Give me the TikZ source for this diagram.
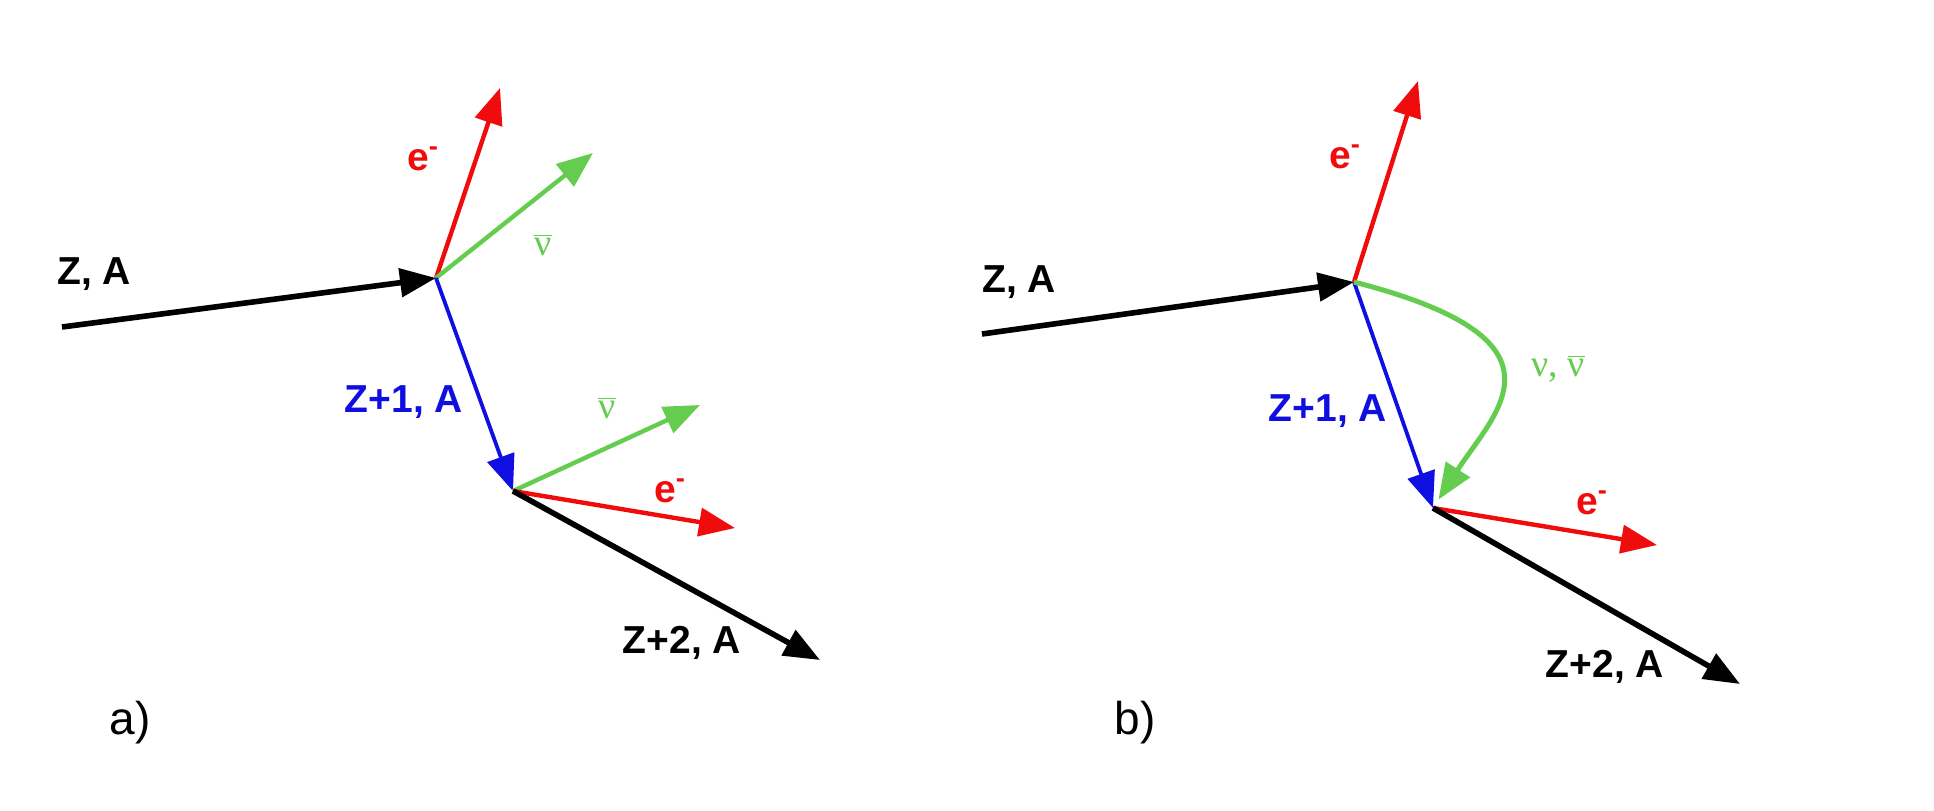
\documentclass[tikz,border=0pt]{standalone}
\usepackage{fontspec}
\setmainfont{Liberation Sans}
\newfontfamily\nufont{Liberation Serif}
\usetikzlibrary{arrows.meta}

\begin{document}
\begin{tikzpicture}[->,>={Triangle[length=18pt,width=14pt]},x=0.5pt,y=-0.5pt,
	heavy/.style={line width=2.8pt,black},
	elec/.style={line width=2.2pt,ered},
	neut/.style={line width=2.2pt,ngreen},
	daug/.style={line width=1.9pt,dblue},
	tag/.style={font=\fontsize{19.5}{23}\selectfont\bfseries},
	nu tag/.style={font=\fontsize{19}{22}\selectfont\nufont,text=ngreen},
	panel/.style={font=\fontsize{23}{27}\selectfont}]
	
	\definecolor{ered}{RGB}{240,12,12}
	\definecolor{ngreen}{RGB}{100,205,80}
	\definecolor{dblue}{RGB}{15,15,225}
	
	\path[use as bounding box,-] (0,0) rectangle (1934,810);
	
	% a) two beta decays
	\coordinate (sa) at (62,327);
	\coordinate (va) at (436,278);
	\coordinate (wa) at (513,491);
	\coordinate (ea1) at (500,88);
	\coordinate (na1) at (593,153);
	\coordinate (na2) at (700,405);
	\coordinate (ea2) at (735,528);
	\coordinate (fa) at (820,660);
	
	\draw[heavy] (sa) -- (va);
	\draw[elec] (va) -- (ea1);
	\draw[neut] (va) -- (na1);
	\draw[daug] (va) -- (wa);
	\draw[neut] (wa) -- (na2);
	\draw[elec] (wa) -- (ea2);
	\draw[heavy] (wa) -- (fa);
	
	\node[tag] (za) at (94,274) {Z, A};
	\node[tag,text=ered] (ela1) at (423,159) {e\textsuperscript{-}};
	\node[nu tag] (nla1) at (543,245) {$\overline{\mbox{\nufont ν}}$};
	\node[tag,text=dblue] (zb) at (404,402) {Z+1, A};
	\node[nu tag] (nla2) at (607,408) {$\overline{\mbox{\nufont ν}}$};
	\node[tag,text=ered] (ela2) at (670,491) {e\textsuperscript{-}};
	\node[tag] (zc) at (682,643) {Z+2, A};
	\node[panel] (pa) at (130,723) {a)};
	
	% b) neutrino exchanged between the vertices
	\coordinate (sb) at (982,334);
	\coordinate (vb) at (1354,282);
	\coordinate (wb) at (1433,508);
	\coordinate (eb1) at (1418,81);
	\coordinate (eb2) at (1657,545);
	\coordinate (fb) at (1740,684);
	
	\draw[heavy] (sb) -- (vb);
	\draw[elec] (vb) -- (eb1);
	\draw[daug] (vb) -- (wb);
	\draw[neut,line width=2.5pt,shorten >=5pt] (vb) .. controls (1580,340) and (1495,412) .. (wb);
	\draw[elec] (wb) -- (eb2);
	\draw[heavy] (wb) -- (fb);
	
	\node[tag] (zd) at (1019,282) {Z, A};
	\node[tag,text=ered] (elb1) at (1345,157) {e\textsuperscript{-}};
	\node[nu tag] (nlb) at (1558,369) {ν, $\overline{\mbox{\nufont ν}}$};
	\node[tag,text=dblue] (ze) at (1328,411) {Z+1, A};
	\node[tag,text=ered] (elb2) at (1592,503) {e\textsuperscript{-}};
	\node[tag] (zf) at (1605,667) {Z+2, A};
	\node[panel] (pb) at (1135,723) {b)};
\end{tikzpicture}
\end{document}
